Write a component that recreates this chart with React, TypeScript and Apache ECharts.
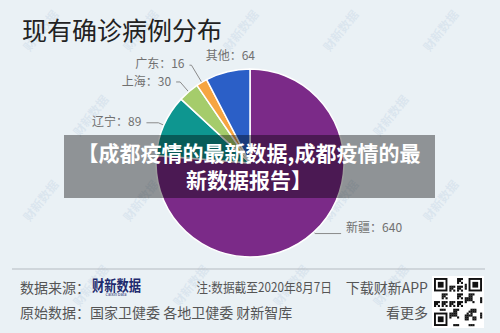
import React, { useEffect, useRef } from "react";
import * as echarts from "echarts";

const categories = ["新疆", "辽宁", "上海", "广东", "其他"];
const values = [640, 89, 30, 16, 64];
const sliceColors = ["#7B2A88", "#0E9690", "#A5CC6B", "#F6A541", "#2B5FC7"];

const titleText = "现有确诊病例分布";
const bannerLines = ["【成都疫情的最新数据,成都疫情的最", "新数据报告】"];
const footerRow1 = { source: "数据来源：", note: "注:数据截至2020年8月7日", app: "下载财新APP" };
const footerRow2 = { origin: "原始数据：国家卫健委 各地卫健委 财新智库", more: "看更多" };

const FONT = '"Noto Sans CJK SC", "Noto Sans", sans-serif';

// label-line lengths per slice (style only)
const lineLen = [2, 6, 13, 20, 10];
const lineLen2 = [26, 12, 4, 2, 0];

function buildWatermarks() {
  const items: any[] = [];
  for (let row = 0; row < 4; row++) {
    for (let col = 0; col < 5; col++) {
      const x = 40 + col * 100 + (row % 2) * 50;
      const y = 30 + row * 85;
      if (x > 470 || y > 310) continue;
      items.push({
        type: "text",
        x,
        y,
        rotation: 0.9,
        z: 0,
        style: {
          text: "财新数据",
          font: `bold 12px ${FONT}`,
          fill: "rgba(170,195,218,0.25)",
          textAlign: "center",
          textVerticalAlign: "middle",
        },
      });
    }
  }
  return items;
}

function buildQR() {
  const n = 25;
  const size = 48;
  const m = size / n;
  const x0 = 434;
  const y0 = 278;
  const cells: any[] = [];
  cells.push({ type: "rect", shape: { x: x0 - 2, y: y0 - 2, width: size + 4, height: size + 4 }, style: { fill: "#ffffff" } });
  const inFinder = (i: number, j: number) =>
    (i < 8 && j < 8) || (i < 8 && j >= n - 8) || (i >= n - 8 && j < 8);
  const finders = [
    [0, 0],
    [0, n - 7],
    [n - 7, 0],
  ];
  finders.forEach(([r, c]) => {
    cells.push({ type: "rect", shape: { x: x0 + c * m, y: y0 + r * m, width: 7 * m, height: 7 * m }, style: { fill: "#111" } });
    cells.push({ type: "rect", shape: { x: x0 + (c + 1) * m, y: y0 + (r + 1) * m, width: 5 * m, height: 5 * m }, style: { fill: "#fff" } });
    cells.push({ type: "rect", shape: { x: x0 + (c + 2) * m, y: y0 + (r + 2) * m, width: 3 * m, height: 3 * m }, style: { fill: "#111" } });
  });
  for (let i = 0; i < n; i++) {
    for (let j = 0; j < n; j++) {
      if (inFinder(i, j)) continue;
      const v = (i * 31 + j * 17 + i * j * 7 + ((i ^ j) * 3)) % 7;
      if (v < 3) {
        cells.push({ type: "rect", shape: { x: x0 + j * m, y: y0 + i * m, width: m + 0.2, height: m + 0.2 }, style: { fill: "#111" } });
      }
    }
  }
  return cells;
}

export default function App() {
  const ref = useRef<HTMLDivElement>(null);
  useEffect(() => {
    if (!ref.current) return;
    const chart = echarts.init(ref.current, undefined, { renderer: "svg" });
    const data = categories.map((name, i) => ({
      name,
      value: values[i],
      itemStyle: { color: sliceColors[i] },
      labelLine: { length: lineLen[i], length2: lineLen2[i], show: i !== 4 },
    }));
    chart.setOption({
      animation: false,
      backgroundColor: "#EAF1F5",
      series: [
        {
          type: "pie",
          center: [250, 163],
          radius: 94,
          startAngle: 90,
          clockwise: true,
          avoidLabelOverlap: false,
          z: 2,
          itemStyle: { borderColor: "#ffffff", borderWidth: 1.5 },
          label: {
            formatter: "{b}：{c}",
            color: "#707070",
            fontSize: 12,
            fontFamily: FONT,
          },
          labelLine: { lineStyle: { color: "#8a8a8a", width: 1 } },
          labelLayout: (params: any) => {
            if (params.dataIndex === 4) {
              const r = params.labelRect;
              return { dx: r.width / 2 + 10, dy: -7 };
            }
            if (params.dataIndex === 3) return { dy: -3 };
            if (params.dataIndex === 2) return { dy: -1 };
            if (params.dataIndex === 1) return { dy: -2 };
            if (params.dataIndex === 0) return { dy: -7 };
            return {};
          },
          data,
        },
      ],
      graphic: [
        ...buildWatermarks(),
        {
          type: "text",
          x: 22,
          y: 29,
          z: 10,
          style: { text: titleText, font: `25px ${FONT}`, fill: "#222", textVerticalAlign: "middle" },
        },
        {
          type: "rect",
          z: 20,
          shape: { x: 64, y: 135, width: 371, height: 63 },
          style: { fill: "rgba(0,0,0,0.39)" },
        },
        {
          type: "text",
          x: 249,
          y: 165.5,
          z: 21,
          style: {
            text: bannerLines.join("\n"),
            font: `bold 21px ${FONT}`,
            lineHeight: 27,
            fill: "#ffffff",
            textAlign: "center",
            textVerticalAlign: "middle",
          },
        },
        {
          type: "line",
          z: 10,
          shape: { x1: 12, y1: 269, x2: 485, y2: 269 },
          style: { stroke: "#B5BBC1", lineWidth: 1 },
        },
        {
          type: "text", x: 20, y: 287, z: 10,
          style: { text: footerRow1.source, font: `14px ${FONT}`, fill: "#555", textVerticalAlign: "middle" },
        },
        {
          type: "text", x: 92, y: 284, z: 10, scaleX: 0.82,
          style: { text: "财新数据", font: `bold 15px ${FONT}`, fill: "#1E2B6E", textVerticalAlign: "middle" },
        },
        {
          type: "text", x: 116, y: 294, z: 10,
          style: { text: "Caixin Data", font: `4px ${FONT}`, fill: "#1E2B6E", textAlign: "center", textVerticalAlign: "middle" },
        },
        {
          type: "text", x: 332, y: 287, z: 10, scaleX: 0.9,
          style: { text: footerRow1.note, font: `13px ${FONT}`, fill: "#555", textAlign: "right", textVerticalAlign: "middle" },
        },
        {
          type: "text", x: 428, y: 287, z: 10,
          style: { text: footerRow1.app, font: `14px ${FONT}`, fill: "#555", textAlign: "right", textVerticalAlign: "middle" },
        },
        {
          type: "text", x: 20, y: 312, z: 10,
          style: { text: footerRow2.origin, font: `14px ${FONT}`, fill: "#555", textVerticalAlign: "middle" },
        },
        {
          type: "text", x: 428, y: 312, z: 10,
          style: { text: footerRow2.more, font: `14px ${FONT}`, fill: "#555", textAlign: "right", textVerticalAlign: "middle" },
        },
        ...buildQR(),
      ],
    });
    return () => chart.dispose();
  }, []);
  return <div ref={ref} style={{ position: "fixed", left: 0, top: 0, width: 500, height: 333 }} />;
}
